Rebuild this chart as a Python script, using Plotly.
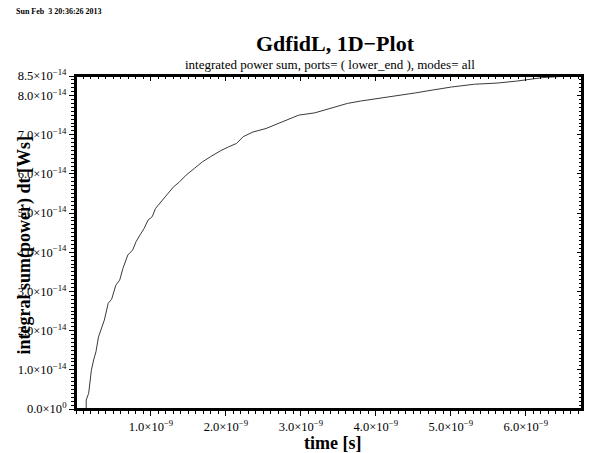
import plotly.graph_objects as go

# ---------------------------------------------------------------------------
# Data (time in 1e-9 s, power integral in 1e-14 Ws)
# ---------------------------------------------------------------------------
time_ns = [
    0.136, 0.136, 0.169, 0.192, 0.205, 0.235, 0.266, 0.300, 0.344, 0.378,
    0.430, 0.475, 0.531, 0.583, 0.626, 0.691, 0.756, 0.801, 0.866, 0.909,
    0.961, 1.017, 1.061, 1.134, 1.209, 1.296, 1.382, 1.469, 1.578, 1.687,
    1.795, 1.926, 2.034, 2.143, 2.229, 2.360, 2.535, 2.708, 2.795, 2.969,
    3.186, 3.360, 3.621, 3.794, 4.055, 4.360, 4.533, 4.751, 5.012, 5.316,
    5.619, 5.880, 6.055, 6.228, 6.402, 6.489, 6.600,
]
energy_e14 = [
    0.00, 0.23, 0.40, 0.74, 0.99, 1.25, 1.46, 1.84, 2.06, 2.27,
    2.70, 2.80, 3.16, 3.29, 3.59, 3.93, 4.06, 4.27, 4.48, 4.61,
    4.82, 4.91, 5.12, 5.29, 5.46, 5.66, 5.80, 5.97, 6.14, 6.31,
    6.44, 6.59, 6.69, 6.78, 6.95, 7.07, 7.16, 7.29, 7.37, 7.50,
    7.56, 7.65, 7.80, 7.86, 7.93, 8.01, 8.07, 8.14, 8.22, 8.29,
    8.32, 8.37, 8.41, 8.46, 8.48, 8.49, 8.50,
]

x_tick_vals = [1.0, 2.0, 3.0, 4.0, 5.0, 6.0]
x_tick_text = ["%.1f\u00d710<sup>\u22129</sup>" % v for v in x_tick_vals]
y_tick_vals = [0.0, 1.0, 2.0, 3.0, 4.0, 5.0, 6.0, 7.0, 8.0, 8.5]
y_tick_text = ["0.0\u00d710<sup>0</sup>"] + [
    "%.1f\u00d710<sup>\u221214</sup>" % v for v in y_tick_vals[1:]
]

X_RANGE = [0, 6.75e-9]
Y_RANGE = [0, 8.5e-14]

SERIF = "Liberation Serif, Times New Roman, serif"

# the page body offsets the figure by 8px, and the right edge of the window
# is not visible, so keep the frame a little inside
FIG_W, FIG_H = 584, 445
MARGIN = dict(l=63, r=10, t=68, b=44)
PLOT_W = FIG_W - MARGIN["l"] - MARGIN["r"]
PLOT_H = FIG_H - MARGIN["t"] - MARGIN["b"]
PLOT_LEFT = 8 + MARGIN["l"]          # window pixels
PLOT_BOTTOM = 8 + FIG_H - MARGIN["b"]

t = [v * 1e-9 for v in time_ns]
e = [v * 1e-14 for v in energy_e14]

fig = go.Figure()
fig.add_trace(
    go.Scatter(
        x=t, y=e, mode="lines",
        line=dict(color="#3a3a3a", width=1),
        showlegend=False, hoverinfo="skip",
    )
)
# empty trace so the mirrored (top / right) axes get drawn
fig.add_trace(go.Scatter(x=[], y=[], xaxis="x2", yaxis="y2", showlegend=False))

common = dict(showgrid=False, zeroline=False, showline=True, linecolor="black",
              linewidth=2, tickcolor="black", tickwidth=1)

fig.update_layout(
    width=FIG_W, height=FIG_H,
    margin=MARGIN,
    paper_bgcolor="white", plot_bgcolor="white",
    font=dict(family=SERIF, color="black", size=12),
    xaxis=dict(
        range=X_RANGE, tickmode="array",
        tickvals=[v * 1e-9 for v in x_tick_vals], ticktext=x_tick_text,
        ticks="outside", ticklen=5, tickfont=dict(size=12.5),
        minor=dict(tick0=0, dtick=1e-10, ticks="outside", ticklen=3,
                   tickcolor="black", showgrid=False),
        **common,
    ),
    yaxis=dict(
        range=Y_RANGE, tickmode="array",
        tickvals=[v * 1e-14 for v in y_tick_vals], ticktext=y_tick_text,
        ticks="outside", ticklen=5, tickfont=dict(size=12.5),
        minor=dict(tick0=0, dtick=1e-15, ticks="outside", ticklen=3,
                   tickcolor="black", showgrid=False),
        **common,
    ),
    xaxis2=dict(
        range=X_RANGE, overlaying="x", side="top", anchor="y2",
        tickmode="array", tickvals=[v * 1e-9 for v in x_tick_vals],
        showticklabels=False, ticks="inside", ticklen=5,
        minor=dict(tick0=0, dtick=1e-10, ticks="inside", ticklen=3,
                   tickcolor="black", showgrid=False),
        **common,
    ),
    yaxis2=dict(
        range=Y_RANGE, overlaying="y", side="right", anchor="x2",
        tickmode="array", tickvals=[v * 1e-14 for v in y_tick_vals],
        showticklabels=False, ticks="inside", ticklen=5,
        minor=dict(tick0=0, dtick=1e-15, ticks="inside", ticklen=3,
                   tickcolor="black", showgrid=False),
        **common,
    ),
)

# plot frame
fig.add_shape(type="rect", xref="paper", yref="paper", x0=0, x1=1, y0=0, y1=1,
              line=dict(color="black", width=2), layer="above")

# ---------------------------------------------------------------------------
# Texts (positions in window pixels -> paper coordinates)
# ---------------------------------------------------------------------------
def px(x):
    return (x - PLOT_LEFT) / PLOT_W


def py(y):
    return (PLOT_BOTTOM - y) / PLOT_H


fig.add_annotation(text="<b>Sun Feb  3 20:36:26 2013</b>", xref="paper", yref="paper",
                   x=-MARGIN["l"] / PLOT_W, y=py(12), xanchor="left", yanchor="middle",
                   showarrow=False, font=dict(size=8))
fig.add_annotation(text="<b>GdfidL, 1D\u2212Plot</b>", xref="paper", yref="paper",
                   x=px(333), y=py(44), xanchor="center", yanchor="middle",
                   showarrow=False, font=dict(size=22))
fig.add_annotation(text="integrated power sum, ports= ( lower_end ), modes= all",
                   xref="paper", yref="paper",
                   x=px(328), y=py(65), xanchor="center", yanchor="middle",
                   showarrow=False, font=dict(size=13))
fig.add_annotation(text="<b>time [s]</b>", xref="paper", yref="paper",
                   x=px(330), y=py(443), xanchor="center", yanchor="middle",
                   showarrow=False, font=dict(size=18))
fig.add_annotation(text="<b>integral sum(power) dt [Ws]</b>", xref="paper", yref="paper",
                   x=px(18), y=py(246), xanchor="center", yanchor="middle",
                   textangle=-90, showarrow=False, font=dict(size=18))

fig.write_html("out.html")
